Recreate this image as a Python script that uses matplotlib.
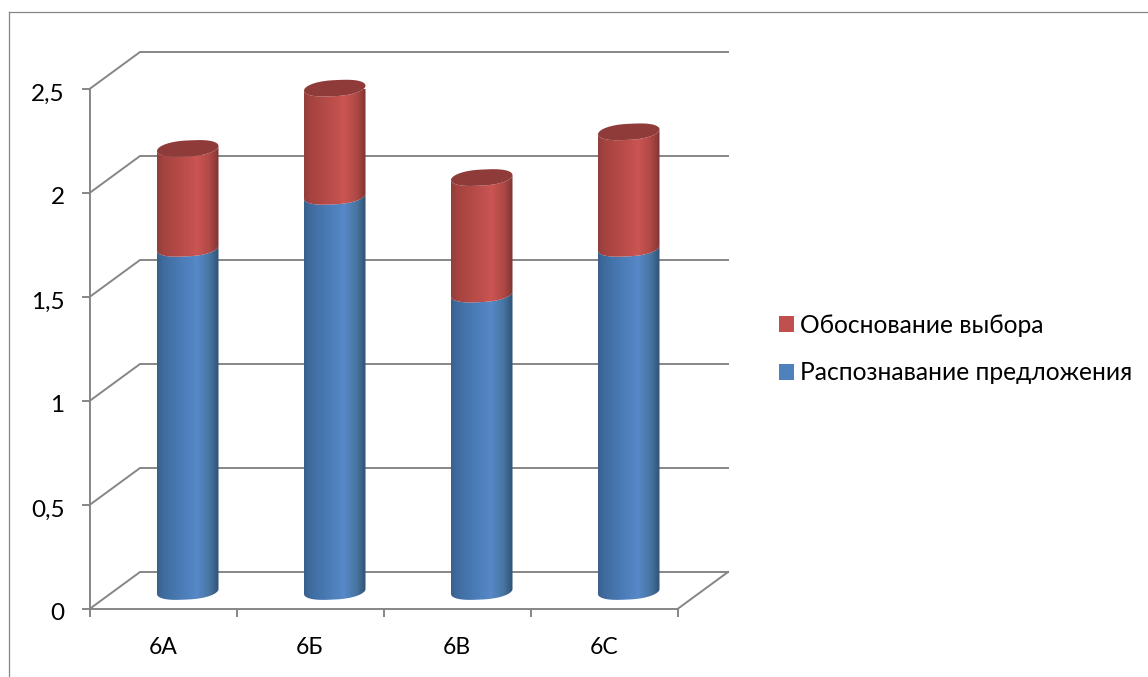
#!/usr/bin/env python3
import numpy as np
import matplotlib
matplotlib.use("Agg")
import matplotlib.pyplot as plt
from matplotlib.lines import Line2D
from matplotlib.patches import Patch, Polygon
from matplotlib.colors import to_rgb
from matplotlib.transforms import ScaledTranslation

categories = ["6А", "6Б", "6В", "6С"]
recognition = [1.65, 1.90, 1.43, 1.65]
justification = [0.48, 0.52, 0.56, 0.56]
y_ticks = [0, 0.5, 1, 1.5, 2, 2.5]
y_labels = ["0", "0,5", "1", "1,5", "2", "2,5"]
series_names = ["Обоснование выбора", "Распознавание предложения"]

W, H = 1148, 677
GRAY = "#868686"
BLUE = "#4F81BD"
RED = "#C0504D"
FONT = "Lato"

# 3D look: depth of the floor and the bar size, in data units
DEPTH_X = 50.5 / 147
DEPTH_Y = 37 / 208
BAR_W = 61.5 / 147
CAP_B = 8 / 208
CAP_TILT = 2.5 / 208

BLUE_STOPS = [(0, "#38608C"), (0.1, "#3F6C9F"), (0.45, "#4D7FBB"), (0.65, "#5788C8"),
              (0.86, "#47749F"), (1, "#2F5278")]
RED_STOPS = [(0, "#8F3F3C"), (0.1, "#A5433F"), (0.5, "#BF4F4C"), (0.65, "#CB5552"),
             (0.85, "#B04946"), (1, "#803532")]


def gradient(stops):
    pos = [s[0] for s in stops]
    rgb = np.array([to_rgb(s[1]) for s in stops])
    xs = np.linspace(0, 1, 128)
    return np.stack([np.interp(xs, pos, rgb[:, i]) for i in range(3)], axis=1)[None, :, :]


def ellipse(cx, yc, t):
    # slightly squared ellipse, leaning up to the right like the 3D cylinder
    half = BAR_W / 2
    c = np.sign(np.cos(t)) * np.abs(np.cos(t)) ** 0.8
    return cx + half * c, yc + CAP_B * np.sin(t) + CAP_TILT * np.cos(t)


def draw_segment(ax, cx, y0, y1, stops, z):
    # front arc of the lower ellipse, then front arc of the upper one back
    t = np.linspace(np.pi, 2 * np.pi, 40)
    x_lo, y_lo = ellipse(cx, y0, t)
    x_hi, y_hi = ellipse(cx, y1, t[::-1])
    pts = np.column_stack([np.r_[x_lo, x_hi], np.r_[y_lo, y_hi]])
    clip = Polygon(pts, closed=True, transform=ax.transData, facecolor="none", edgecolor="none")
    ax.add_patch(clip)
    top = y1 + CAP_B * 2
    bottom = y0 - CAP_B * 2
    im = ax.imshow(gradient(stops), extent=(cx - BAR_W / 2, cx + BAR_W / 2, bottom, top),
                   aspect="auto", interpolation="bilinear", zorder=z)
    im.set_clip_path(clip)
    im.set_clip_on(True)


fig = plt.figure(figsize=(W / 100, H / 100), dpi=100)
ax = fig.add_axes([89.5 / W, (H - 609) / H, 588 / W, 520 / H])

# outer chart frame
fig.add_artist(Line2D([9 / W, 9 / W], [0, (H - 12) / H], color=GRAY, lw=0.9))
fig.add_artist(Line2D([9 / W, 1], [(H - 12) / H, (H - 12) / H], color=GRAY, lw=0.9))

n = len(categories)
for v in y_ticks:
    ax.plot([0, DEPTH_X, n + DEPTH_X], [v, v + DEPTH_Y, v + DEPTH_Y], color=GRAY, lw=1.4,
            clip_on=False, zorder=1, solid_joinstyle="miter")
ax.plot([n, n + DEPTH_X], [0, DEPTH_Y], color=GRAY, lw=1.4, clip_on=False, zorder=1)

for i in range(n):
    cx = i + 0.5 + 49.5 / 147 / 2
    base = DEPTH_Y / 2 - 1 / 208
    mid = base + recognition[i]
    top = mid + justification[i]
    draw_segment(ax, cx, base, mid, BLUE_STOPS, 3)
    draw_segment(ax, cx, mid, top, RED_STOPS, 4)
    t = np.linspace(0, 2 * np.pi, 80)
    xc, yc = ellipse(cx, top, t)
    ax.fill(xc, yc, color="#8F3B39", lw=0, zorder=5, clip_on=False)

ax.set_xlim(0, n)
ax.set_ylim(0, 2.5)

for side in ["top", "right"]:
    ax.spines[side].set_visible(False)
for side in ["left", "bottom"]:
    ax.spines[side].set_color(GRAY)
    ax.spines[side].set_linewidth(1.4)
ax.patch.set_alpha(0)

ax.set_yticks(y_ticks)
ax.set_yticklabels(y_labels, fontsize=17.5, fontfamily=FONT, color="black")
ax.tick_params(axis="y", length=6, width=1.4, color=GRAY, pad=12)
# labels sit 2 px under their ticks in the original
shift = ScaledTranslation(0, -3 / 100, fig.dpi_scale_trans)
for label in ax.get_yticklabels():
    label.set_transform(label.get_transform() + shift)

ax.set_xticks(range(n + 1))
ax.set_xticklabels([])
ax.tick_params(axis="x", which="major", length=6, width=1.4, color=GRAY)
ax.set_xticks(np.arange(n) + 0.5, minor=True)
ax.set_xticklabels(categories, minor=True, fontsize=16.5, fontfamily=FONT, color="black")
ax.tick_params(axis="x", which="minor", length=0, pad=20)

handles = [Patch(facecolor=RED, edgecolor="none"), Patch(facecolor=BLUE, edgecolor="none")]
fig.legend(handles, series_names, loc="center left", bbox_to_anchor=(779 / W, (H - 349) / H),
           frameon=False, prop={"family": FONT, "size": 17.7}, handlelength=0.62, handleheight=0.62,
           handletextpad=0.22, labelspacing=1.0, borderaxespad=0, borderpad=0)

fig.savefig("out.png", dpi=100)
